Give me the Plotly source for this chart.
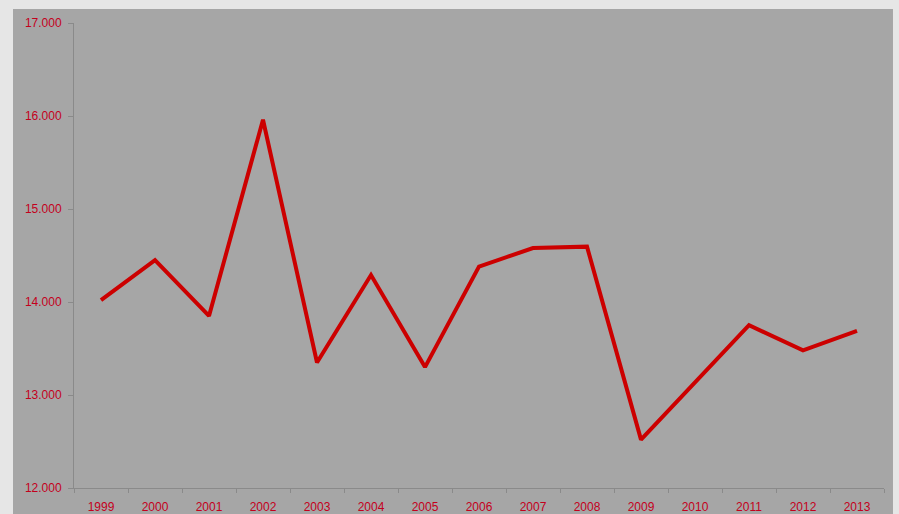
import plotly.graph_objects as go

years = ["1999", "2000", "2001", "2002", "2003", "2004", "2005", "2006",
         "2007", "2008", "2009", "2010", "2011", "2012", "2013"]
values = [14020, 14450, 13850, 15960, 13350, 14290, 13300, 14380,
          14580, 14595, 12520, 13130, 13750, 13480, 13690]

red = "#c4001c"
axis_grey = "#8a8a8a"

fig = go.Figure()
fig.add_trace(go.Scatter(
    x=years, y=values, mode="lines",
    line=dict(color="#cc0000", width=4),
    hoverinfo="x+y",
))

# grey chart area on a light frame
fig.add_shape(type="rect", xref="paper", yref="paper",
              x0=-0.0753, x1=1.0111, y0=-0.2, y1=1.0301,
              fillcolor="#a6a6a6", line=dict(width=0), layer="below")

fig.update_layout(
    width=899, height=514,
    margin=dict(l=74, r=15, t=23, b=26),
    paper_bgcolor="#e6e6e6",
    plot_bgcolor="#a6a6a6",
    separators=",.",
    showlegend=False,
    font=dict(family="Liberation Sans, Arial, sans-serif", size=12, color=red),
)
fig.update_xaxes(
    type="category", tickson="boundaries", range=[-0.5, 14.5],
    automargin=False,
    showline=True, linecolor=axis_grey, linewidth=1,
    ticks="outside", ticklen=4, tickcolor=axis_grey,
    ticklabelstandoff=8,
    showgrid=False, zeroline=False,
    tickfont=dict(color=red, size=12),
)
fig.update_yaxes(
    range=[12000, 17000], dtick=1000, tickformat=",d",
    automargin=False,
    showline=True, linecolor=axis_grey, linewidth=1,
    ticks="outside", ticklen=5, tickcolor=axis_grey,
    ticklabelstandoff=4,
    showgrid=False, zeroline=False,
    tickfont=dict(color=red, size=12),
)

fig.write_html("out.html")
